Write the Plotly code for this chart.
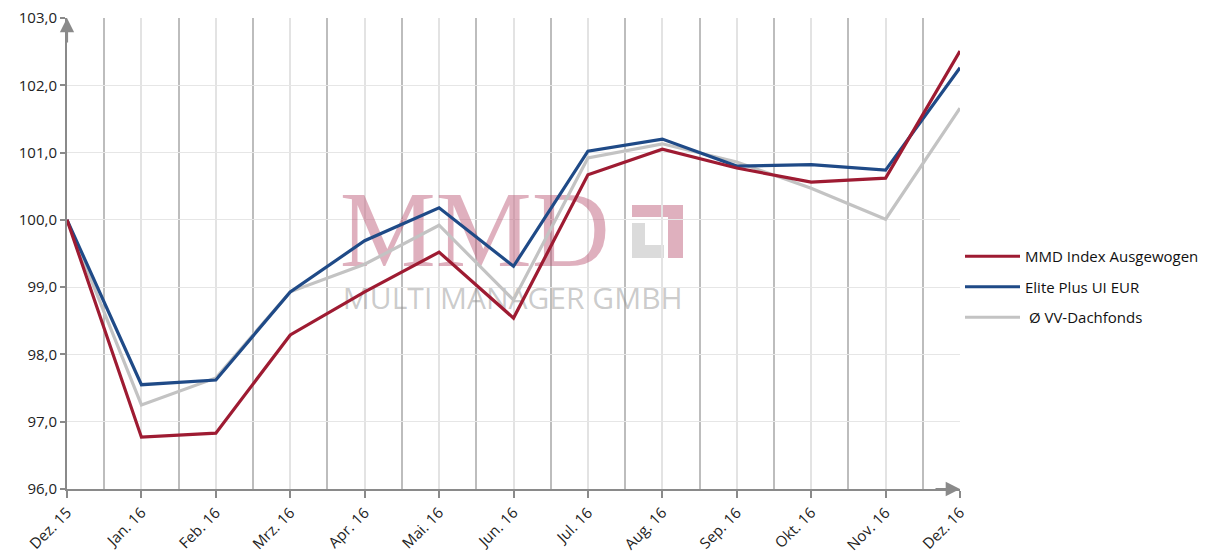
import plotly.graph_objects as go

months = ["Dez. 15", "Jan. 16", "Feb. 16", "Mrz. 16", "Apr. 16", "Mai. 16", "Jun. 16",
          "Jul. 16", "Aug. 16", "Sep. 16", "Okt. 16", "Nov. 16", "Dez. 16"]
mmd_index = [100.0, 96.77, 96.83, 98.29, 98.93, 99.52, 98.54, 100.67, 101.05, 100.77, 100.56, 100.62, 102.51]
elite_plus = [100.0, 97.55, 97.62, 98.93, 99.69, 100.18, 99.31, 101.02, 101.20, 100.80, 100.82, 100.74, 102.26]
vv_dachfonds = [100.0, 97.25, 97.65, 98.93, 99.34, 99.92, 98.81, 100.92, 101.13, 100.86, 100.47, 100.01, 101.66]
y_ticks = [96, 97, 98, 99, 100, 101, 102, 103]

xs = list(range(len(months)))
FONT = "Open Sans"

fig = go.Figure()

# watermark (drawn first so it sits beneath the lines)
fig.add_trace(go.Scatter(x=[5.48], y=[99.72], mode="text", text=["MMD"],
                         textfont=dict(family="Liberation Serif", size=108, color="rgba(185,80,110,0.45)"),
                         showlegend=False, hoverinfo="skip"))
fig.add_trace(go.Scatter(x=[5.99], y=[98.78], mode="text", text=["MULTI MANAGER GMBH"],
                         textfont=dict(family="Open Sans", size=30, color="rgba(140,140,140,0.45)"),
                         showlegend=False, hoverinfo="skip"))

series = [("MMD Index Ausgewogen", mmd_index, "#9e1b32"),
          ("Elite Plus UI EUR", elite_plus, "#1f4a87"),
          ("\u00a0Ø VV-Dachfonds", vv_dachfonds, "#c3c3c3")]
# draw gray first, then blue, then red on top (legend order kept via legendrank)
for i in [2, 1, 0]:
    name, vals, col = series[i]
    fig.add_trace(go.Scatter(x=xs, y=vals, mode="lines", name=name, legendgroup=f"g{i}",
                             line=dict(color=col, width=3.2), legendrank=i + 1))

# page offset: the browser body adds 8px margin
OFF = 8
W, H = 1206 - OFF, 553 - OFF
L, R, T, B = 67 - OFF, 246, 18 - OFF, 64
pw, ph = W - L - R, H - T - B

def px(xp):
    return (xp - OFF - L) / pw

def py(yp):
    return (H + OFF - B - yp) / ph

red = "rgba(185,80,110,0.45)"
gray = "rgba(190,190,190,0.55)"
shapes = [
    dict(type="rect", xref="paper", yref="paper", x0=px(632), x1=px(668), y0=py(217), y1=py(205),
         fillcolor=red, line=dict(width=0), layer="below"),
    dict(type="rect", xref="paper", yref="paper", x0=px(668), x1=px(683), y0=py(258), y1=py(205),
         fillcolor=red, line=dict(width=0), layer="below"),
    dict(type="rect", xref="paper", yref="paper", x0=px(632), x1=px(645), y0=py(258), y1=py(223),
         fillcolor=gray, line=dict(width=0), layer="below"),
    dict(type="rect", xref="paper", yref="paper", x0=px(645), x1=px(664), y0=py(258), y1=py(245),
         fillcolor=gray, line=dict(width=0), layer="below"),
]

annotations = [
    dict(x=0, y=103, xref="x", yref="y", ax=0, ay=26,
         showarrow=True, arrowhead=2, arrowsize=1.3, arrowwidth=2.2, arrowcolor="#8a8a8a", text=""),
    dict(x=12, y=96, xref="x", yref="y", ax=-26, ay=0,
         showarrow=True, arrowhead=2, arrowsize=1.3, arrowwidth=2.2, arrowcolor="#8a8a8a", text=""),
]

fig.update_layout(
    width=W, height=H,
    margin=dict(l=L, r=R, t=T, b=B, autoexpand=False),
    paper_bgcolor="white", plot_bgcolor="white",
    separators=",.",
    font=dict(family=FONT, size=15, color="#222222"),
    shapes=shapes, annotations=annotations,
    legend=dict(x=1.0, xanchor="left", xref="paper", y=py(287), yanchor="middle",
                font=dict(family=FONT, size=15, color="#111111"),
                traceorder="grouped", itemwidth=55, tracegroupgap=8, bgcolor="rgba(0,0,0,0)"),
    showlegend=True,
)

fig.update_xaxes(
    range=[0, 12], tickmode="array", tickvals=xs, ticktext=months, tickangle=-45,
    showline=True, linecolor="#8a8a8a", linewidth=2,
    ticks="outside", ticklen=7, tickwidth=2, tickcolor="#8a8a8a",
    showgrid=True, gridcolor="#e3e3e3", gridwidth=2,
    minor=dict(tickmode="array", tickvals=[i + 0.5 for i in range(12)], showgrid=True,
               gridcolor="#bdbdbd", gridwidth=2, ticks=""),
    tickfont=dict(family=FONT, size=15, color="#222222"),
    ticklabeloverflow="allow",
    zeroline=False, fixedrange=True,
)
fig.update_yaxes(
    range=[96, 103], tickmode="array", tickvals=y_ticks, tickformat=".1f",
    showline=True, linecolor="#8a8a8a", linewidth=2,
    ticks="outside", ticklen=5, tickwidth=2, tickcolor="#8a8a8a",
    showgrid=True, gridcolor="#e6e6e6", gridwidth=1,
    tickfont=dict(family=FONT, size=15, color="#222222"),
    ticklabeloverflow="allow",
    zeroline=False, fixedrange=True,
)

fig.write_html("out.html")
